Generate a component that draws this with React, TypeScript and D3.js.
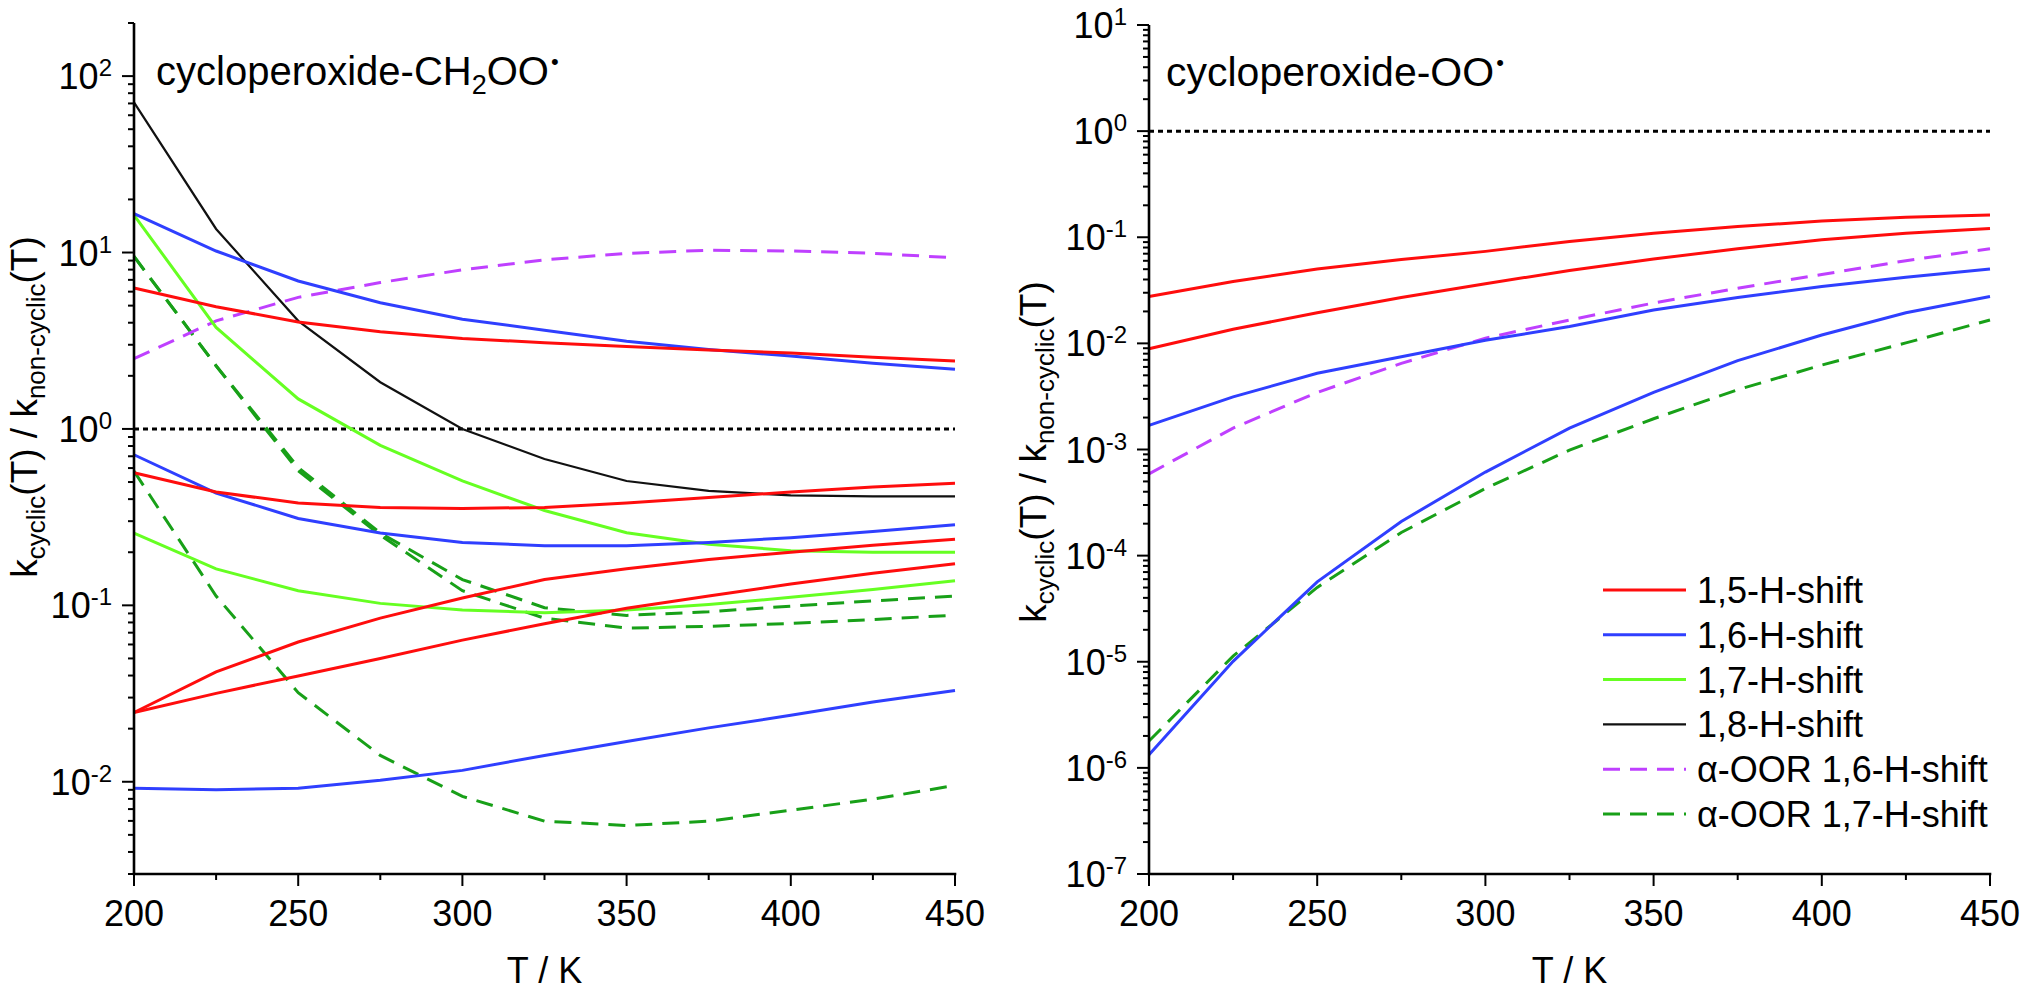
import React from "react";
import * as d3 from "d3";

// temperatures (K) at which the ratios were computed
const temps = [200, 225, 250, 275, 300, 325, 350, 375, 400, 425, 450];

// left panel: cycloperoxide-CH2OO•
const left15a = [6.3, 4.93, 4.04, 3.55, 3.26, 3.08, 2.93, 2.8, 2.69, 2.55, 2.43];
const left15b = [0.564, 0.439, 0.38, 0.359, 0.354, 0.359, 0.38, 0.409, 0.439, 0.468, 0.492];
const left15c = [0.0247, 0.042, 0.062, 0.0846, 0.11, 0.14, 0.161, 0.182, 0.2, 0.219, 0.237];
const left15d = [0.0247, 0.0317, 0.0398, 0.05, 0.0635, 0.0787, 0.0962, 0.113, 0.132, 0.152, 0.172];
const left16a = [16.6, 10.2, 6.9, 5.19, 4.19, 3.63, 3.14, 2.82, 2.59, 2.36, 2.18];
const left16b = [0.714, 0.433, 0.311, 0.257, 0.227, 0.218, 0.218, 0.227, 0.242, 0.262, 0.286];
const left16c = [0.0092, 0.009, 0.0092, 0.0102, 0.0116, 0.0141, 0.0169, 0.0202, 0.0238, 0.0283, 0.0329];
const left17a = [16.3, 3.76, 1.48, 0.807, 0.507, 0.345, 0.258, 0.222, 0.204, 0.2, 0.2];
const left17b = [0.257, 0.161, 0.121, 0.1026, 0.094, 0.0908, 0.094, 0.101, 0.111, 0.123, 0.138];
const left18 = [71, 13.6, 4.1, 1.84, 1.0, 0.675, 0.507, 0.445, 0.42, 0.415, 0.415];
const leftA16 = [2.5, 4.1, 5.57, 6.76, 7.98, 9.08, 9.89, 10.3, 10.2, 9.9, 9.33];
const leftA17a = [9.5, 2.28, 0.605, 0.257, 0.14, 0.097, 0.0877, 0.092, 0.099, 0.106, 0.113];
const leftA17b = [9.5, 2.28, 0.58, 0.25, 0.121, 0.0845, 0.0743, 0.076, 0.079, 0.083, 0.088];
const leftA17c = [0.576, 0.113, 0.032, 0.0141, 0.00826, 0.00598, 0.00565, 0.00598, 0.0069, 0.00796, 0.00953];

// right panel: cycloperoxide-OO•
const right15a = [0.0277, 0.0383, 0.0503, 0.0616, 0.0736, 0.0912, 0.109, 0.126, 0.142, 0.154, 0.162];
const right15b = [0.0089, 0.0136, 0.0194, 0.0271, 0.0365, 0.0486, 0.0623, 0.078, 0.0946, 0.109, 0.121];
const right16a = [0.00169, 0.00313, 0.00523, 0.00748, 0.0107, 0.0144, 0.0206, 0.0271, 0.0344, 0.042, 0.0503];
const right16b = [1.33e-6, 1.01e-5, 5.66e-5, 2.1e-4, 6.13e-4, 1.59e-3, 3.45e-3, 6.88e-3, 0.012, 0.0194, 0.0277];
const rightA16 = [0.00059, 0.00159, 0.00345, 0.00648, 0.0112, 0.0166, 0.024, 0.0331, 0.0446, 0.0601, 0.078];
const rightA17 = [1.79e-6, 1.13e-5, 5.02e-5, 1.65e-4, 4.29e-4, 9.87e-4, 1.95e-3, 3.66e-3, 6.25e-3, 0.0101, 0.0166];

const xTicks = [200, 250, 300, 350, 400, 450];
const xMinorTicks = [225, 275, 325, 375, 425];

const legendLabels = [
  "1,5-H-shift",
  "1,6-H-shift",
  "1,7-H-shift",
  "1,8-H-shift",
  "α-OOR 1,6-H-shift",
  "α-OOR 1,7-H-shift",
];

const FONT = "'Liberation Sans', Arial, sans-serif";
const RED = "#ff0d0d";
const BLUE = "#2f3fff";
const LIME = "#66ff22";
const BLACK = "#111111";
const PURPLE = "#bf40ff";
const DKGREEN = "#18a018";

const styles: Record<string, { stroke: string; dash?: string; width: number }> = {
  "1,5": { stroke: RED, width: 3 },
  "1,6": { stroke: BLUE, width: 3 },
  "1,7": { stroke: LIME, width: 3 },
  "1,8": { stroke: BLACK, width: 2.2 },
  a16: { stroke: PURPLE, width: 3, dash: "17,10" },
  a17: { stroke: DKGREEN, width: 3, dash: "17,10" },
};
const legendKeys = ["1,5", "1,6", "1,7", "1,8", "a16", "a17"];

interface Series {
  key: string;
  values: number[];
}

interface PanelProps {
  series: Series[];
  domain: [number, number];
  x0: number;
  x1: number;
  yTop: number;
  yBot: number;
  title: React.ReactNode;
  yLabelX: number;
  yLabelY: number;
}

const YLabel = ({ x, y }: { x: number; y: number }) => (
  <text
    transform={`translate(${x},${y}) rotate(-90)`}
    textAnchor="middle"
    fontFamily={FONT}
    fontSize={37}
  >
    k
    <tspan fontSize={26} dy={8}>cyclic</tspan>
    <tspan dy={-8}>(T) / k</tspan>
    <tspan fontSize={26} dy={8}>non-cyclic</tspan>
    <tspan dy={-8}>(T)</tspan>
  </text>
);

const Panel = (p: PanelProps) => {
  const x = d3.scaleLinear().domain([200, 450]).range([p.x0, p.x1]);
  const y = d3.scaleLog().domain(p.domain).range([p.yBot, p.yTop]);
  const line = d3
    .line<number>()
    .x((_, i) => x(temps[i]))
    .y((d) => y(d));

  // log ticks: 1..9 x 10^n inside the domain
  const lo = Math.floor(Math.log10(p.domain[0]));
  const hi = Math.ceil(Math.log10(p.domain[1]));
  const yTicks: { v: number; major: boolean; exp: number }[] = [];
  for (let e = lo; e <= hi; e++) {
    for (let k = 1; k <= 9; k++) {
      const v = k * Math.pow(10, e);
      if (v >= p.domain[0] * 0.999 && v <= p.domain[1] * 1.001)
        yTicks.push({ v, major: k === 1, exp: e });
    }
  }

  return (
    <g>
      {/* reference line at ratio 1 */}
      <line
        x1={p.x0}
        x2={p.x1}
        y1={y(1)}
        y2={y(1)}
        stroke="#000"
        strokeWidth={3}
        strokeDasharray="5,4"
      />
      {p.series.map((s, i) => {
        const st = styles[s.key];
        return (
          <path
            key={i}
            d={line(s.values) || ""}
            fill="none"
            stroke={st.stroke}
            strokeWidth={st.width}
            strokeDasharray={st.dash}
          />
        );
      })}

      {/* axes */}
      <line x1={p.x0} x2={p.x0} y1={p.yTop} y2={p.yBot} stroke="#000" strokeWidth={2.6} />
      <line x1={p.x0 - 1.3} x2={p.x1 + 1.3} y1={p.yBot} y2={p.yBot} stroke="#000" strokeWidth={2.6} />
      {yTicks.map((t, i) => (
        <line
          key={"yt" + i}
          x1={p.x0 - (t.major ? 12 : 6)}
          x2={p.x0}
          y1={y(t.v)}
          y2={y(t.v)}
          stroke="#000"
          strokeWidth={2}
        />
      ))}
      {yTicks
        .filter((t) => t.major)
        .map((t, i) => (
          <text
            key={"yl" + i}
            x={p.x0 - 22}
            y={y(t.v) + 13}
            textAnchor="end"
            fontFamily={FONT}
            fontSize={36}
          >
            10
            <tspan fontSize={24} dy={-13}>{t.exp}</tspan>
          </text>
        ))}
      {xTicks.map((t) => (
        <g key={"xt" + t}>
          <line x1={x(t)} x2={x(t)} y1={p.yBot} y2={p.yBot + 12} stroke="#000" strokeWidth={2} />
          <text x={x(t)} y={926} textAnchor="middle" fontFamily={FONT} fontSize={36}>
            {t}
          </text>
        </g>
      ))}
      {xMinorTicks.map((t) => (
        <line key={"xm" + t} x1={x(t)} x2={x(t)} y1={p.yBot} y2={p.yBot + 6} stroke="#000" strokeWidth={2} />
      ))}
      <text
        x={(p.x0 + p.x1) / 2}
        y={983}
        textAnchor="middle"
        fontFamily={FONT}
        fontSize={36}
      >
        T / K
      </text>
      <YLabel x={p.yLabelX} y={p.yLabelY} />
      {p.title}
    </g>
  );
};

const Legend = ({ x, y }: { x: number; y: number }) => (
  <g>
    {legendKeys.map((k, i) => {
      const st = styles[k];
      const yy = y + i * 44.8;
      return (
        <g key={k}>
          <line
            x1={x}
            x2={x + 83}
            y1={yy}
            y2={yy}
            stroke={st.stroke}
            strokeWidth={st.width}
            strokeDasharray={st.dash}
          />
          <text x={x + 94} y={yy + 13} fontFamily={FONT} fontSize={36}>
            {legendLabels[i]}
          </text>
        </g>
      );
    })}
  </g>
);

export default function App() {
  const leftSeries: Series[] = [
    { key: "a17", values: leftA17a },
    { key: "a17", values: leftA17b },
    { key: "a17", values: leftA17c },
    { key: "a16", values: leftA16 },
    { key: "1,8", values: left18 },
    { key: "1,7", values: left17a },
    { key: "1,7", values: left17b },
    { key: "1,6", values: left16a },
    { key: "1,6", values: left16b },
    { key: "1,6", values: left16c },
    { key: "1,5", values: left15a },
    { key: "1,5", values: left15b },
    { key: "1,5", values: left15c },
    { key: "1,5", values: left15d },
  ];
  const rightSeries: Series[] = [
    { key: "a17", values: rightA17 },
    { key: "a16", values: rightA16 },
    { key: "1,6", values: right16a },
    { key: "1,6", values: right16b },
    { key: "1,5", values: right15a },
    { key: "1,5", values: right15b },
  ];

  return (
    <svg
      width={2025}
      height={993}
      style={{ position: "absolute", left: 0, top: 0, background: "#fff" }}
    >
      <rect width={2025} height={993} fill="#fff" />
      <Panel
        series={leftSeries}
        domain={[3e-3, 200]}
        x0={134}
        x1={955}
        yTop={23}
        yBot={874}
        yLabelX={37}
        yLabelY={407}
        title={
          <text x={156} y={85} fontFamily={FONT} fontSize={40}>
            cycloperoxide-CH
            <tspan fontSize={27} dy={9}>2</tspan>
            <tspan dy={-9}>OO</tspan>
            <tspan fontSize={22} dx={2} dy={-16}>•</tspan>
          </text>
        }
      />
      <Panel
        series={rightSeries}
        domain={[1e-7, 10]}
        x0={1149}
        x1={1990}
        yTop={25}
        yBot={874}
        yLabelX={1046}
        yLabelY={452}
        title={
          <text x={1166} y={86} fontFamily={FONT} fontSize={41}>
            cycloperoxide-OO
            <tspan fontSize={22} dx={2} dy={-16}>•</tspan>
          </text>
        }
      />
      <Legend x={1603} y={590} />
    </svg>
  );
}
